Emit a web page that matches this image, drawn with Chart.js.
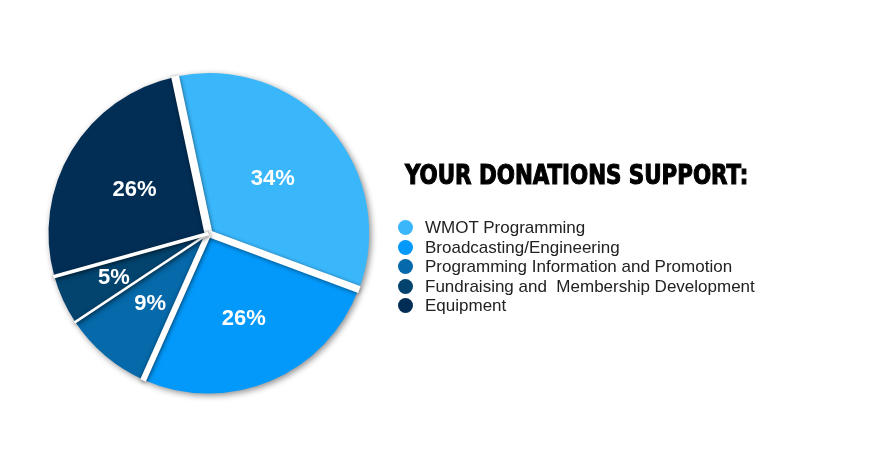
<!DOCTYPE html>
<html>
<head>
<meta charset="utf-8">
<script src="https://cdn.jsdelivr.net/npm/chart.js@4"></script>
<style>
    html, body { margin: 0; padding: 0; background: #fff; }
    #wrap { position: relative; width: 880px; height: 472px; overflow: hidden; }
    #pie { position: absolute; left: 0; top: 0; }
    #title {
        position: absolute; left: 405px; top: 159px;
        font-family: "DejaVu Sans Condensed", "Liberation Sans Narrow", sans-serif;
        font-weight: bold; font-size: 27px; color: #000;
        -webkit-text-stroke: 1.1px #000;
        white-space: nowrap; transform-origin: 0 0;
    }
    #legend { position: absolute; left: 398px; top: 218px; margin: 0; padding: 0; list-style: none; }
    #legend li {
        font-family: "Liberation Sans", Arial, sans-serif; font-size: 17px; color: #222;
        height: 19.6px; line-height: 19.6px; white-space: pre;
    }
    #legend .dot {
        display: inline-block; width: 15px; height: 15px; border-radius: 50%;
        vertical-align: -2px; margin-right: 12px;
    }
</style>
</head>
<body>
<div id="wrap">
    <canvas id="pie" width="880" height="472"></canvas>
    <div id="title">YOUR DONATIONS SUPPORT:</div>
    <ul id="legend"></ul>
</div>
<script>
// ===== Data =====
const categories = [
    "WMOT Programming",
    "Broadcasting/Engineering",
    "Programming Information and Promotion",
    "Fundraising and  Membership Development",
    "Equipment"
];
const shares = [34, 26, 9, 5, 26];
const sliceColors = ["#3AB7FA", "#0399FA", "#0669AA", "#03446F", "#022E56"];

// width of the white gap drawn at the start edge of each slice
const gapWidths = [8, 7, 6, 2.5, 3.5];
// where the % label sits, as a share of the radius
const labelFactor = [0.53, 0.57, 0.565, 0.65, 0.54];

// ===== Soft drop shadow under the slices =====
const shadowPlugin = {
    id: "shadow",
    beforeDatasetsDraw(chart) {
        const ctx = chart.ctx;
        ctx.save();
        ctx.shadowColor = "rgba(0,0,0,0.45)";
        ctx.shadowBlur = 6;
        ctx.shadowOffsetX = 2;
        ctx.shadowOffsetY = 2;
    },
    afterDatasetsDraw(chart) {
        chart.ctx.restore();
    }
};

// ===== White separators + percent labels =====
const sliceDecor = {
    id: "sliceDecor",
    afterDatasetsDraw(chart) {
        const ctx = chart.ctx;
        const meta = chart.getDatasetMeta(0);

        // separators between slices, with a soft grey edge
        ctx.save();
        ctx.strokeStyle = "#fff";
        ctx.lineCap = "butt";
        ctx.shadowColor = "rgba(0,0,0,0.45)";
        ctx.shadowBlur = 4;
        ctx.shadowOffsetY = 1;
        meta.data.forEach((arc, i) => {
            const p = arc.getProps(["x", "y", "startAngle", "outerRadius"], true);
            const r = p.outerRadius + 1;
            ctx.lineWidth = gapWidths[i];
            ctx.beginPath();
            ctx.moveTo(p.x, p.y);
            ctx.lineTo(p.x + Math.cos(p.startAngle) * r, p.y + Math.sin(p.startAngle) * r);
            ctx.stroke();
        });
        ctx.restore();

        ctx.save();
        ctx.fillStyle = "#fff";
        ctx.font = "bold 22px 'Liberation Sans', Arial, sans-serif";
        ctx.textAlign = "center";
        ctx.textBaseline = "middle";
        meta.data.forEach((arc, i) => {
            const p = arc.getProps(["x", "y", "startAngle", "endAngle", "outerRadius"], true);
            const mid = (p.startAngle + p.endAngle) / 2;
            const r = p.outerRadius * labelFactor[i];
            ctx.fillText(shares[i] + "%", p.x + Math.cos(mid) * r, p.y + Math.sin(mid) * r + 1);
        });
        ctx.restore();
    }
};

new Chart(document.getElementById("pie"), {
    type: "pie",
    data: {
        labels: categories,
        datasets: [{
            data: shares,
            backgroundColor: sliceColors,
            borderWidth: 0,
            offset: [3, 0, 0, 0, 0]
        }]
    },
    options: {
        responsive: false,
        animation: false,
        rotation: -12,
        layout: { padding: { left: 47, right: 510, top: 72, bottom: 77 } },
        plugins: {
            legend: { display: false },
            tooltip: { enabled: false }
        }
    },
    plugins: [shadowPlugin, sliceDecor]
});

// ===== Title width + legend list =====
const titleEl = document.getElementById("title");
titleEl.style.transform = `scaleX(${343 / titleEl.offsetWidth})`;

const legendEl = document.getElementById("legend");
categories.forEach((label, i) => {
    const li = document.createElement("li");
    li.innerHTML = `<span class="dot" style="background:${sliceColors[i]}"></span>${label}`;
    legendEl.appendChild(li);
});
</script>
</body>
</html>
